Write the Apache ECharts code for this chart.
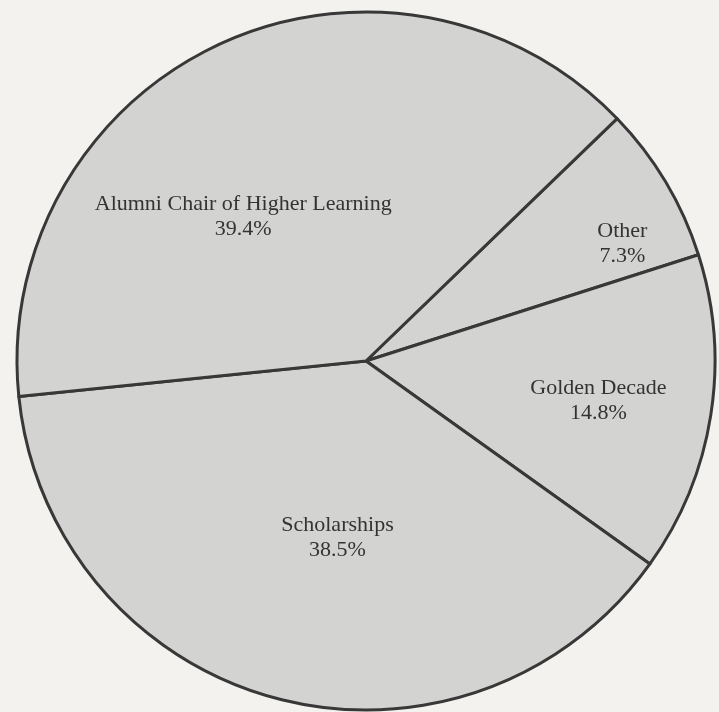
<!DOCTYPE html>
<html><head><meta charset="utf-8">
<script src="https://cdn.jsdelivr.net/npm/echarts@6/dist/echarts.min.js"></script>
<style>html,body{margin:0;padding:0;background:#f3f2ef}#c{width:719px;height:712px}</style>
</head><body><div id="c"></div>
<script>
const categories = ['Other', 'Golden Decade', 'Scholarships', 'Alumni Chair of Higher Learning'];
const shares = [7.3, 14.8, 38.5, 39.4];
// label nudges (px) relative to the default inside position
const labelShift = [[104, -26], [57, 12], [17, 5], [-48, 17]];

const chart = echarts.init(document.getElementById('c'), null, {renderer: 'canvas'});
chart.setOption({
  backgroundColor: '#f3f2ef',
  animation: false,
  series: [{
    type: 'pie',
    center: [366, 361],
    radius: 349,
    startAngle: 44,
    clockwise: true,
    silent: true,
    data: categories.map((n, i) => ({name: n, value: shares[i]})),
    itemStyle: {color: '#d3d3d1', borderColor: '#383838', borderWidth: 3},
    label: {
      show: true,
      position: 'inside',
      formatter: p => p.name + '\n' + p.value.toFixed(1) + '%',
      fontFamily: 'Liberation Serif',
      fontSize: 22,
      lineHeight: 25,
      color: '#333333',
      align: 'center'
    },
    labelLine: {show: false},
    labelLayout: p => ({dx: labelShift[p.dataIndex][0], dy: labelShift[p.dataIndex][1]}),
    emphasis: {disabled: true}
  }]
});
</script>
</body></html>
